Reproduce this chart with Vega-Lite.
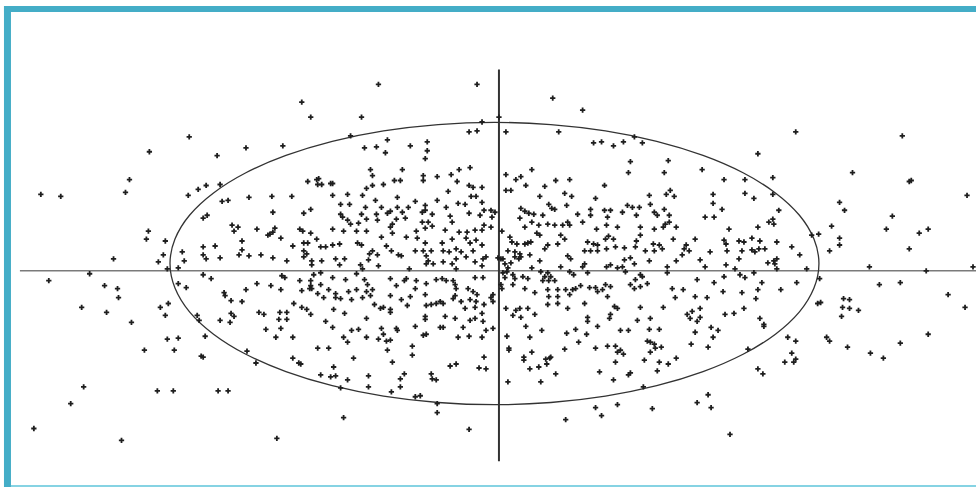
{
  "$schema": "https://vega.github.io/schema/vega-lite/v6.json",
  "width": 980,
  "height": 491,
  "autosize": {"type": "fit", "contains": "padding"},
  "padding": 0,
  "background": "white",
  "config": {"view": {"stroke": null}},
  "datasets": {
    "frameLeft": [{"x": -492.5, "y": 267, "y2": -218}],
    "frameTop": [{"x": -496, "x2": 480, "y": 264}],
    "frameBottom": [{"x": -489, "x2": 480, "y": -217}],
    "axisH": [{"x": -480, "x2": 480, "y": 0}],
    "axisV": [{"x": 1, "y": 203, "y2": -192}],
    "ellipse": [
      {"i":0,"x":322.3,"y":7.3},{"i":1,"x":317.3,"y":32.0},{"i":2,"x":302.7,"y":56.0},{"i":3,"x":278.6,"y":78.5},
      {"i":4,"x":246.1,"y":98.8},{"i":5,"x":205.9,"y":116.3},{"i":6,"x":159.4,"y":130.5},{"i":7,"x":107.9,"y":141.0},
      {"i":8,"x":53.1,"y":147.4},{"i":9,"x":-3.5,"y":149.6},{"i":10,"x":-60.1,"y":147.4},{"i":11,"x":-114.9,"y":141.0},
      {"i":12,"x":-166.4,"y":130.5},{"i":13,"x":-212.9,"y":116.3},{"i":14,"x":-253.1,"y":98.8},{"i":15,"x":-285.6,"y":78.5},
      {"i":16,"x":-309.7,"y":56.0},{"i":17,"x":-324.3,"y":32.0},{"i":18,"x":-329.3,"y":7.3},{"i":19,"x":-324.3,"y":-17.4},
      {"i":20,"x":-309.7,"y":-41.4},{"i":21,"x":-285.6,"y":-63.9},{"i":22,"x":-253.1,"y":-84.2},{"i":23,"x":-212.9,"y":-101.7},
      {"i":24,"x":-166.4,"y":-115.9},{"i":25,"x":-114.9,"y":-126.4},{"i":26,"x":-60.1,"y":-132.8},{"i":27,"x":-3.5,"y":-135.0},
      {"i":28,"x":53.1,"y":-132.8},{"i":29,"x":107.9,"y":-126.4},{"i":30,"x":159.4,"y":-115.9},{"i":31,"x":205.9,"y":-101.7},
      {"i":32,"x":246.1,"y":-84.2},{"i":33,"x":278.6,"y":-63.9},{"i":34,"x":302.7,"y":-41.4},{"i":35,"x":317.3,"y":-17.4}
    ],
    "points": [
      {"x":-310,"y":135},{"x":-350,"y":120},{"x":-282,"y":116},
      {"x":-120,"y":188},{"x":-21,"y":188},{"x":-197,"y":170},{"x":-188,"y":155},{"x":-137,"y":155},{"x":-253,"y":124},{"x":-216,"y":126},{"x":-148,"y":136},{"x":-134,"y":124},{"x":-122,"y":125},{"x":-111,"y":132},{"x":-113,"y":119},{"x":-88,"y":126},{"x":-71,"y":130},{"x":-71,"y":121},{"x":-73,"y":113},{"x":-29,"y":140},{"x":-21,"y":141},{"x":-16,"y":150},
      {"x":1,"y":155},{"x":55,"y":174},{"x":85,"y":162},{"x":8,"y":140},{"x":61,"y":140},{"x":96,"y":129},{"x":104,"y":130},{"x":116,"y":126},{"x":126,"y":130},{"x":137,"y":135},{"x":145,"y":129},{"x":133,"y":110},{"x":171,"y":111},
      {"x":299,"y":140},{"x":406,"y":136},{"x":261,"y":118},
      {"x":-370,"y":92},{"x":-459,"y":77},{"x":-439,"y":75},{"x":-374,"y":79},{"x":-311,"y":76},{"x":-301,"y":82},{"x":-293,"y":86},{"x":-279,"y":87},{"x":-277,"y":70},{"x":-271,"y":71},{"x":-296,"y":53},{"x":-292,"y":56},{"x":-267,"y":46},{"x":-261,"y":44},{"x":-265,"y":40},{"x":-351,"y":40},{"x":-353,"y":32},{"x":-334,"y":30},{"x":-257,"y":30},{"x":-317,"y":19},{"x":-296,"y":24},{"x":-284,"y":25},{"x":-257,"y":21},{"x":-336,"y":16},{"x":-296,"y":16},{"x":-293,"y":12},{"x":-279,"y":13},{"x":-260,"y":16},{"x":-386,"y":12},{"x":-341,"y":9},{"x":-315,"y":10},{"x":-332,"y":2},{"x":-321,"y":3},{"x":-410,"y":-3},{"x":-451,"y":-10},{"x":-296,"y":-4},{"x":-288,"y":-8},{"x":-321,"y":-13},{"x":-313,"y":-17},{"x":-395,"y":-15},{"x":-382,"y":-18},{"x":-381,"y":-27},{"x":-275,"y":-22},{"x":-274,"y":-25},{"x":-268,"y":-30},{"x":-257,"y":-31},{"x":-418,"y":-37},{"x":-393,"y":-42},{"x":-339,"y":-37},{"x":-331,"y":-33},{"x":-334,"y":-45},{"x":-302,"y":-45},{"x":-279,"y":-50},{"x":-268,"y":-43},{"x":-265,"y":-46},{"x":-269,"y":-52},{"x":-368,"y":-52},{"x":-300,"y":-50},
      {"x":-128,"y":102},{"x":-126,"y":96},{"x":-96,"y":102},{"x":-75,"y":96},{"x":-75,"y":91},{"x":-61,"y":95},{"x":-47,"y":97},{"x":-39,"y":102},{"x":-28,"y":104},{"x":-180,"y":93},{"x":-182,"y":92},{"x":-191,"y":90},{"x":-181,"y":87},{"x":-177,"y":87},{"x":-168,"y":88},{"x":-166,"y":88},{"x":-126,"y":86},{"x":-132,"y":83},{"x":-115,"y":87},{"x":-104,"y":91},{"x":-98,"y":91},{"x":-41,"y":90},{"x":-29,"y":86},{"x":-25,"y":84},{"x":-16,"y":84},
      {"x":-250,"y":74},{"x":-227,"y":75},{"x":-207,"y":75},{"x":-166,"y":76},{"x":-151,"y":77},{"x":-136,"y":76},{"x":-123,"y":71},{"x":-101,"y":74},{"x":-83,"y":70},{"x":-61,"y":71},{"x":-50,"y":80},{"x":-27,"y":75},{"x":-22,"y":75},{"x":-16,"y":69},
      {"x":-158,"y":67},{"x":-149,"y":67},{"x":-133,"y":64},{"x":-117,"y":64},{"x":-108,"y":60},{"x":-101,"y":64},{"x":-90,"y":64},{"x":-73,"y":66},{"x":-52,"y":64},{"x":-40,"y":68},{"x":-33,"y":67},
      {"x":-226,"y":59},{"x":-195,"y":58},{"x":-188,"y":62},{"x":-158,"y":57},{"x":-156,"y":54},{"x":-137,"y":57},{"x":-122,"y":57},{"x":-111,"y":58},{"x":-96,"y":59},{"x":-76,"y":59},{"x":-73,"y":61},{"x":-66,"y":57},{"x":-48,"y":55},{"x":-29,"y":58},{"x":-18,"y":56},{"x":-14,"y":61},
      {"x":-151,"y":51},{"x":-132,"y":52},{"x":-121,"y":51},{"x":-106,"y":47},{"x":-102,"y":52},{"x":-93,"y":53},{"x":-76,"y":49},{"x":-70,"y":49},{"x":-46,"y":49},{"x":-148,"y":47},{"x":-140,"y":48},
      {"x":-242,"y":42},{"x":-224,"y":43},{"x":-199,"y":42},{"x":-231,"y":36},{"x":-229,"y":37},{"x":-226,"y":39},{"x":-196,"y":40},{"x":-188,"y":38},{"x":-166,"y":42},{"x":-155,"y":40},{"x":-142,"y":40},{"x":-132,"y":40},{"x":-108,"y":44},{"x":-106,"y":38},{"x":-82,"y":40},{"x":-73,"y":43},{"x":-66,"y":45},{"x":-53,"y":41},{"x":-39,"y":39},{"x":-31,"y":39},{"x":-23,"y":41},{"x":-16,"y":41},{"x":-14,"y":46},
      {"x":-218,"y":33},{"x":-182,"y":32},{"x":-206,"y":25},{"x":-195,"y":28},{"x":-191,"y":28},{"x":-178,"y":24},{"x":-173,"y":24},{"x":-166,"y":26},{"x":-159,"y":27},{"x":-141,"y":28},{"x":-137,"y":26},{"x":-117,"y":34},{"x":-112,"y":25},{"x":-92,"y":34},{"x":-81,"y":33},{"x":-73,"y":28},{"x":-56,"y":28},{"x":-46,"y":32},{"x":-32,"y":33},{"x":-28,"y":28},{"x":-22,"y":31},{"x":-16,"y":26},
      {"x":-250,"y":15},{"x":-238,"y":16},{"x":-226,"y":13},{"x":-212,"y":10},{"x":-195,"y":20},{"x":-192,"y":17},{"x":-195,"y":14},{"x":-187,"y":10},{"x":-187,"y":6},{"x":-177,"y":10},{"x":-163,"y":12},{"x":-154,"y":12},{"x":-159,"y":6},{"x":-138,"y":6},{"x":-136,"y":2},{"x":-130,"y":11},{"x":-129,"y":17},{"x":-126,"y":20},{"x":-121,"y":16},{"x":-120,"y":5},{"x":-100,"y":16},{"x":-97,"y":15},{"x":-107,"y":20},{"x":-83,"y":20},{"x":-75,"y":20},{"x":-67,"y":20},{"x":-72,"y":15},{"x":-70,"y":10},{"x":-72,"y":7},{"x":-65,"y":7},{"x":-55,"y":20},{"x":-49,"y":19},{"x":-42,"y":22},{"x":-37,"y":19},{"x":-55,"y":9},{"x":-46,"y":7},{"x":-42,"y":12},{"x":-32,"y":14},{"x":-25,"y":20},{"x":-23,"y":9},{"x":-15,"y":12},{"x":-12,"y":14},{"x":-16,"y":5},{"x":-89,"y":2},{"x":-42,"y":2},
      {"x":-217,"y":-5},{"x":-214,"y":-7},{"x":-185,"y":-4},{"x":-178,"y":-2},{"x":-242,"y":-13},{"x":-228,"y":-15},{"x":-199,"y":-10},{"x":-188,"y":-10},{"x":-188,"y":-15},{"x":-187,"y":-18},{"x":-178,"y":-14},{"x":-166,"y":-7},{"x":-153,"y":-9},{"x":-142,"y":-3},{"x":-134,"y":-9},{"x":-131,"y":-14},
      {"x":-218,"y":-19},{"x":-197,"y":-20},{"x":-189,"y":-18},{"x":-181,"y":-23},{"x":-170,"y":-19},{"x":-163,"y":-23},{"x":-150,"y":-21},{"x":-142,"y":-19},{"x":-132,"y":-21},{"x":-126,"y":-19},{"x":-108,"y":-8},{"x":-102,"y":-15},{"x":-92,"y":-8},{"x":-94,"y":-10},{"x":-82,"y":-10},{"x":-72,"y":-13},{"x":-83,"y":-18},{"x":-62,"y":-9},{"x":-56,"y":-8},{"x":-52,"y":-10},{"x":-45,"y":-10},{"x":-43,"y":-14},{"x":-42,"y":-18},{"x":-30,"y":-18},{"x":-25,"y":-21},{"x":-21,"y":-24},{"x":-15,"y":-7},{"x":-23,"y":-7},{"x":-253,"y":-19},
      {"x":-205,"y":-33},{"x":-197,"y":-37},{"x":-192,"y":-39},{"x":-175,"y":-27},{"x":-163,"y":-27},{"x":-158,"y":-28},{"x":-147,"y":-29},{"x":-136,"y":-27},{"x":-128,"y":-25},{"x":-124,"y":-34},{"x":-118,"y":-38},{"x":-115,"y":-37},{"x":-108,"y":-39},{"x":-108,"y":-25},{"x":-97,"y":-29},{"x":-88,"y":-26},{"x":-91,"y":-35},{"x":-72,"y":-35},{"x":-73,"y":-24},{"x":-67,"y":-34},{"x":-62,"y":-33},{"x":-58,"y":-31},{"x":-55,"y":-33},{"x":-45,"y":-28},{"x":-43,"y":-25},{"x":-37,"y":-31},{"x":-28,"y":-29},{"x":-22,"y":-31},{"x":-23,"y":-37},{"x":-33,"y":-38},{"x":-14,"y":-34},
      {"x":-240,"y":-42},{"x":-235,"y":-44},{"x":-219,"y":-42},{"x":-212,"y":-42},{"x":-220,"y":-49},{"x":-212,"y":-49},{"x":-188,"y":-44},{"x":-173,"y":-51},{"x":-165,"y":-39},{"x":-154,"y":-43},{"x":-132,"y":-48},{"x":-108,"y":-42},{"x":-73,"y":-46},{"x":-73,"y":-49},{"x":-53,"y":-46},{"x":-43,"y":-48},{"x":-28,"y":-50},{"x":-23,"y":-48},{"x":-16,"y":-43},{"x":-15,"y":-51},
      {"x":34,"y":102},{"x":8,"y":97},{"x":18,"y":92},{"x":23,"y":95},{"x":28,"y":86},{"x":47,"y":85},{"x":58,"y":91},{"x":72,"y":92},{"x":131,"y":99},{"x":167,"y":99},{"x":205,"y":102},{"x":227,"y":92},{"x":107,"y":86},
      {"x":8,"y":81},{"x":13,"y":81},{"x":42,"y":75},{"x":67,"y":78},{"x":74,"y":75},{"x":98,"y":73},{"x":152,"y":76},{"x":169,"y":77},{"x":173,"y":81},{"x":177,"y":75},{"x":216,"y":77},{"x":216,"y":68},
      {"x":23,"y":63},{"x":27,"y":60},{"x":31,"y":58},{"x":51,"y":67},{"x":54,"y":63},{"x":57,"y":62},{"x":69,"y":66},{"x":80,"y":57},{"x":93,"y":62},{"x":93,"y":56},{"x":107,"y":61},{"x":113,"y":61},{"x":110,"y":54},{"x":125,"y":59},{"x":130,"y":66},{"x":135,"y":64},{"x":142,"y":64},{"x":139,"y":56},{"x":153,"y":67},{"x":157,"y":59},{"x":160,"y":56},{"x":167,"y":62},{"x":172,"y":56},{"x":208,"y":54},{"x":217,"y":54},{"x":225,"y":62},{"x":-7,"y":61},{"x":-3,"y":59},{"x":-6,"y":54},{"x":22,"y":53},{"x":36,"y":57},{"x":45,"y":56},
      {"x":-7,"y":44},{"x":4,"y":40},{"x":27,"y":44},{"x":34,"y":49},{"x":41,"y":46},{"x":50,"y":47},{"x":57,"y":46},{"x":65,"y":46},{"x":70,"y":49},{"x":72,"y":46},{"x":85,"y":49},{"x":99,"y":42},{"x":109,"y":46},{"x":120,"y":44},{"x":143,"y":44},{"x":157,"y":42},{"x":168,"y":47},{"x":172,"y":49},{"x":166,"y":44},{"x":179,"y":44},{"x":232,"y":42},
      {"x":39,"y":38},{"x":42,"y":36},{"x":63,"y":36},{"x":67,"y":32},{"x":90,"y":29},{"x":96,"y":27},{"x":100,"y":26},{"x":108,"y":32},{"x":116,"y":32},{"x":111,"y":35},{"x":139,"y":30},{"x":143,"y":36},{"x":156,"y":27},{"x":162,"y":26},{"x":165,"y":22},{"x":176,"y":32},{"x":189,"y":26},{"x":198,"y":32},{"x":227,"y":31},{"x":229,"y":27},
      {"x":12,"y":34},{"x":14,"y":29},{"x":19,"y":27},{"x":27,"y":27},{"x":30,"y":28},{"x":33,"y":29},{"x":50,"y":26},{"x":47,"y":22},{"x":60,"y":27},{"x":10,"y":20},{"x":17,"y":19},{"x":22,"y":17},{"x":17,"y":14},{"x":21,"y":12},{"x":23,"y":14},{"x":5,"y":12},{"x":0,"y":13},{"x":3,"y":12},
      {"x":87,"y":20},{"x":93,"y":20},{"x":100,"y":20},{"x":109,"y":22},{"x":118,"y":24},{"x":127,"y":23},{"x":138,"y":24},{"x":148,"y":20},{"x":157,"y":20},{"x":187,"y":22},{"x":192,"y":20},{"x":213,"y":19},{"x":185,"y":16},{"x":203,"y":11},{"x":230,"y":20},
      {"x":32,"y":16},{"x":42,"y":10},{"x":70,"y":15},{"x":73,"y":12},{"x":87,"y":7},{"x":85,"y":4},{"x":113,"y":6},{"x":109,"y":4},{"x":120,"y":3},{"x":125,"y":4},{"x":127,"y":11},{"x":133,"y":13},{"x":137,"y":7},{"x":152,"y":10},{"x":170,"y":4},{"x":179,"y":10},{"x":208,"y":4},{"x":229,"y":6},{"x":34,"y":3},{"x":63,"y":4},{"x":7,"y":7},{"x":13,"y":8},{"x":10,"y":3},
      {"x":5,"y":-2},{"x":9,"y":-1},{"x":15,"y":-4},{"x":7,"y":-7},{"x":17,"y":-8},{"x":25,"y":-6},{"x":30,"y":-8},{"x":43,"y":-1},{"x":50,"y":-2},{"x":47,"y":-6},{"x":45,"y":-10},{"x":51,"y":-10},{"x":57,"y":-10},{"x":53,"y":-6},{"x":72,"y":-1},{"x":76,"y":-4},{"x":90,"y":-2},{"x":128,"y":-1},{"x":143,"y":-4},{"x":145,"y":-6},{"x":138,"y":-9},{"x":170,"y":-2},{"x":200,"y":-9},{"x":217,"y":-12},{"x":227,"y":-6},
      {"x":3,"y":-14},{"x":4,"y":-18},{"x":15,"y":-14},{"x":27,"y":-18},{"x":37,"y":-22},{"x":50,"y":-19},{"x":60,"y":-19},{"x":51,"y":-26},{"x":60,"y":-26},{"x":68,"y":-19},{"x":72,"y":-24},{"x":75,"y":-19},{"x":78,"y":-18},{"x":83,"y":-15},{"x":92,"y":-17},{"x":98,"y":-17},{"x":100,"y":-21},{"x":108,"y":-14},{"x":113,"y":-16},{"x":105,"y":-19},{"x":110,"y":-26},{"x":133,"y":-14},{"x":137,"y":-18},{"x":143,"y":-16},{"x":150,"y":-13},{"x":175,"y":-18},{"x":186,"y":-19},{"x":198,"y":-26},{"x":210,"y":-27},{"x":226,"y":-21},{"x":178,"y":-27},
      {"x":-5,"y":-24},{"x":-7,"y":-27},{"x":-5,"y":-31},{"x":50,"y":-34},{"x":60,"y":-33},{"x":70,"y":-38},{"x":87,"y":-33},{"x":117,"y":-36},{"x":120,"y":-38},{"x":143,"y":-37},{"x":166,"y":-37},{"x":203,"y":-38},{"x":8,"y":-38},{"x":18,"y":-40},{"x":22,"y":-38},{"x":30,"y":-38},{"x":15,"y":-45},{"x":23,"y":-47},{"x":37,"y":-44},{"x":90,"y":-47},{"x":90,"y":-51},{"x":113,"y":-44},{"x":112,"y":-48},{"x":140,"y":-50},{"x":153,"y":-48},{"x":190,"y":-44},{"x":195,"y":-41},{"x":193,"y":-48},{"x":203,"y":-47},{"x":200,"y":-51},{"x":228,"y":-44},
      {"x":356,"y":99},{"x":413,"y":90},{"x":415,"y":91},{"x":276,"y":94},{"x":248,"y":92},{"x":248,"y":78},{"x":257,"y":73},{"x":276,"y":77},{"x":471,"y":76},{"x":343,"y":69},{"x":348,"y":61},{"x":282,"y":61},{"x":272,"y":49},{"x":276,"y":52},{"x":277,"y":47},{"x":261,"y":44},{"x":335,"y":45},{"x":396,"y":55},{"x":390,"y":42},{"x":423,"y":38},{"x":432,"y":42},{"x":315,"y":36},{"x":322,"y":37},{"x":343,"y":33},{"x":343,"y":26},
      {"x":242,"y":30},{"x":247,"y":29},{"x":255,"y":33},{"x":263,"y":30},{"x":280,"y":29},{"x":295,"y":24},{"x":245,"y":20},{"x":255,"y":21},{"x":258,"y":19},{"x":262,"y":22},{"x":268,"y":22},{"x":303,"y":16},{"x":333,"y":20},{"x":413,"y":22},{"x":242,"y":12},{"x":271,"y":8},{"x":277,"y":10},{"x":280,"y":12},{"x":278,"y":7},{"x":238,"y":2},{"x":280,"y":2},{"x":257,"y":-2},{"x":310,"y":2},{"x":373,"y":4},{"x":430,"y":0},{"x":477,"y":4},
      {"x":243,"y":-4},{"x":248,"y":-7},{"x":323,"y":-8},{"x":265,"y":-12},{"x":300,"y":-12},{"x":383,"y":-14},{"x":404,"y":-12},{"x":245,"y":-22},{"x":261,"y":-19},{"x":284,"y":-19},{"x":259,"y":-28},{"x":321,"y":-33},{"x":324,"y":-32},{"x":347,"y":-28},{"x":353,"y":-29},{"x":346,"y":-37},{"x":353,"y":-38},{"x":362,"y":-40},{"x":345,"y":-46},{"x":452,"y":-24},{"x":469,"y":-37},{"x":247,"y":-38},{"x":237,"y":-43},{"x":263,"y":-48},{"x":267,"y":-54},
      {"x":-332,"y":-69},{"x":-321,"y":-68},{"x":-294,"y":-66},{"x":-355,"y":-80},{"x":-325,"y":-80},{"x":-298,"y":-86},{"x":-296,"y":-87},{"x":-416,"y":-117},{"x":-429,"y":-134},{"x":-342,"y":-121},{"x":-326,"y":-121},{"x":-281,"y":-121},{"x":-271,"y":-121},{"x":-466,"y":-159},{"x":-378,"y":-171},
      {"x":-233,"y":-59},{"x":-218,"y":-58},{"x":-223,"y":-67},{"x":-206,"y":-67},{"x":-166,"y":-57},{"x":-147,"y":-60},{"x":-140,"y":-59},{"x":-155,"y":-67},{"x":-151,"y":-72},{"x":-132,"y":-67},{"x":-117,"y":-58},{"x":-102,"y":-58},{"x":-101,"y":-60},{"x":-115,"y":-64},{"x":-120,"y":-69},{"x":-112,"y":-71},{"x":-108,"y":-70},{"x":-111,"y":-80},{"x":-83,"y":-56},{"x":-75,"y":-65},{"x":-72,"y":-64},{"x":-86,"y":-76},{"x":-86,"y":-85},{"x":-58,"y":-57},{"x":-55,"y":-57},{"x":-35,"y":-57},{"x":-12,"y":-60},{"x":-40,"y":-67},{"x":-29,"y":-66},{"x":-16,"y":-67},
      {"x":-181,"y":-78},{"x":-170,"y":-78},{"x":-206,"y":-88},{"x":-145,"y":-88},{"x":-106,"y":-92},{"x":-200,"y":-93},{"x":-198,"y":-94},{"x":-165,"y":-97},{"x":-178,"y":-105},{"x":-168,"y":-107},{"x":-163,"y":-106},{"x":-151,"y":-110},{"x":-130,"y":-106},{"x":-130,"y":-117},{"x":-158,"y":-118},{"x":-94,"y":-104},{"x":-98,"y":-109},{"x":-98,"y":-117},{"x":-107,"y":-122},{"x":-67,"y":-104},{"x":-66,"y":-109},{"x":-62,"y":-110},{"x":-48,"y":-96},{"x":-42,"y":-94},{"x":-14,"y":-87},{"x":-19,"y":-98},{"x":-12,"y":-99},{"x":-83,"y":-127},{"x":-78,"y":-126},{"x":-61,"y":-134},{"x":-61,"y":-143},{"x":-155,"y":-148},{"x":-29,"y":-160},{"x":-222,"y":-169},{"x":-243,"y":-93},{"x":-252,"y":-81},
      {"x":-5,"y":-58},{"x":9,"y":-66},{"x":11,"y":-78},{"x":11,"y":-80},{"x":28,"y":-56},{"x":32,"y":-67},{"x":44,"y":-60},{"x":26,"y":-87},{"x":26,"y":-90},{"x":34,"y":-82},{"x":48,"y":-89},{"x":52,"y":-88},{"x":53,"y":-87},{"x":49,"y":-94},{"x":41,"y":-97},{"x":32,"y":-99},{"x":58,"y":-104},{"x":10,"y":-112},{"x":43,"y":-112},
      {"x":69,"y":-63},{"x":78,"y":-59},{"x":89,"y":-64},{"x":81,"y":-72},{"x":67,"y":-79},{"x":98,"y":-78},{"x":100,"y":-56},{"x":110,"y":-76},{"x":118,"y":-76},{"x":120,"y":-82},{"x":123,"y":-80},{"x":126,"y":-84},{"x":123,"y":-60},{"x":131,"y":-60},{"x":118,"y":-92},{"x":102,"y":-102},{"x":116,"y":-110},{"x":133,"y":-103},{"x":131,"y":-105},{"x":146,"y":-117},
      {"x":152,"y":-59},{"x":162,"y":-59},{"x":150,"y":-71},{"x":153,"y":-72},{"x":157,"y":-74},{"x":158,"y":-78},{"x":153,"y":-82},{"x":164,"y":-77},{"x":147,"y":-90},{"x":162,"y":-92},{"x":171,"y":-94},{"x":179,"y":-88},{"x":160,"y":-101},{"x":198,"y":-62},{"x":194,"y":-74},{"x":211,"y":-77},{"x":214,"y":-57},{"x":221,"y":-60},{"x":216,"y":-67},
      {"x":211,"y":-125},{"x":200,"y":-133},{"x":214,"y":-138},{"x":98,"y":-138},{"x":120,"y":-135},{"x":104,"y":-146},{"x":68,"y":-150},{"x":155,"y":-139},{"x":233,"y":-165},
      {"x":267,"y":-56},{"x":291,"y":-67},{"x":299,"y":-71},{"x":251,"y":-79},{"x":295,"y":-83},{"x":288,"y":-92},{"x":297,"y":-92},{"x":299,"y":-89},{"x":261,"y":-99},{"x":266,"y":-104},{"x":330,"y":-67},{"x":333,"y":-71},{"x":351,"y":-77},{"x":374,"y":-83},{"x":387,"y":-88},{"x":404,"y":-73},{"x":432,"y":-64}
    ]
  },
  "encoding": {
    "x": {"field": "x", "type": "quantitative", "scale": {"domain": [-500, 480], "nice": false, "zero": false}, "axis": null},
    "y": {"field": "y", "type": "quantitative", "scale": {"domain": [-218, 273], "nice": false, "zero": false}, "axis": null}
  },
  "layer": [
    {"data": {"name": "frameLeft"}, "mark": {"type": "rule", "color": "#44adc7", "strokeWidth": 7}, "encoding": {"y2": {"field": "y2"}}},
    {"data": {"name": "frameTop"}, "mark": {"type": "rule", "color": "#44adc7", "strokeWidth": 6}, "encoding": {"x2": {"field": "x2"}}},
    {"data": {"name": "frameBottom"}, "mark": {"type": "rule", "color": "#86d3e3", "strokeWidth": 2}, "encoding": {"x2": {"field": "x2"}}},
    {"data": {"name": "axisH"}, "mark": {"type": "rule", "color": "#7a7a7a", "strokeWidth": 1.5}, "encoding": {"x2": {"field": "x2"}}},
    {"data": {"name": "axisV"}, "mark": {"type": "rule", "color": "#333333", "strokeWidth": 2}, "encoding": {"y2": {"field": "y2"}}},
    {"data": {"name": "ellipse"}, "mark": {"type": "line", "color": "#333333", "strokeWidth": 1.3, "interpolate": "cardinal-closed"}, "encoding": {"order": {"field": "i", "type": "quantitative"}}},
    {"data": {"name": "points"}, "mark": {"type": "point", "shape": "M-1,0H1M0,-1V1", "filled": false, "stroke": "#1e1e1e", "strokeWidth": 1.8, "size": 28, "opacity": 1}}
  ]
}
